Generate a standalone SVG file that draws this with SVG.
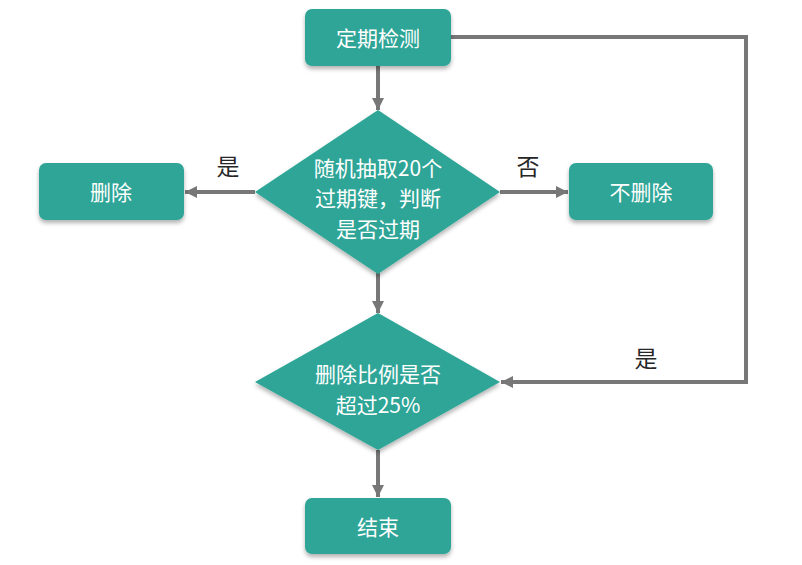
<svg xmlns="http://www.w3.org/2000/svg" width="802" height="565" viewBox="0 0 802 565">
<style>
.node{fill:#2da597;filter:url(#sh)}
.t{font-family:"Noto Sans CJK SC","Noto Sans",sans-serif;font-size:21px;fill:#ffffff;text-anchor:middle;dominant-baseline:central}
.lbl{font-family:"Noto Sans CJK SC","Noto Sans",sans-serif;font-size:23px;fill:#262626;text-anchor:middle;dominant-baseline:central}
.c{fill:none;stroke:#777777;stroke-width:4}
</style>
<defs>
<filter id="sh" x="-10%" y="-10%" width="120%" height="130%">
<feDropShadow dx="0" dy="3" stdDeviation="2" flood-color="#000" flood-opacity="0.3"/>
</filter>
<marker id="ah" viewBox="0 0 10 10" refX="10" refY="5" markerWidth="3" markerHeight="3" orient="auto" markerUnits="strokeWidth">
<path d="M0,0 L10,5 L0,10 z" fill="#777777"/>
</marker>
</defs>
<rect width="802" height="565" fill="#ffffff"/>
<g id="connectors">
<line class="c" x1="378" y1="66" x2="378" y2="110" marker-end="url(#ah)"/>
<line class="c" x1="378" y1="273" x2="378" y2="313" marker-end="url(#ah)"/>
<line class="c" x1="378" y1="450" x2="378" y2="497" marker-end="url(#ah)"/>
<line class="c" x1="255" y1="192" x2="185" y2="192" marker-end="url(#ah)"/>
<line class="c" x1="500" y1="192" x2="568" y2="192" marker-end="url(#ah)"/>
<polyline class="c" points="451,37 746,37 746,382 501,382" marker-end="url(#ah)"/>
<text class="lbl" x="228" y="165">是</text>
<text class="lbl" x="528" y="165">否</text>
<text class="lbl" x="646" y="357">是</text>
</g>
<g id="n-check">
<rect class="node" x="305" y="9" width="146" height="57" rx="7"/>
<text class="t" x="378" y="37">定期检测</text>
</g>
<g id="n-sample">
<polygon class="node" points="378,110 500,192 378,274 255,192"/>
<text class="t" x="378" y="166.5">随机抽取20个</text>
<text class="t" x="378" y="197">过期键，判断</text>
<text class="t" x="378" y="227.5">是否过期</text>
</g>
<g id="n-delete">
<rect class="node" x="39" y="163" width="145" height="57" rx="7"/>
<text class="t" x="111" y="191">删除</text>
</g>
<g id="n-keep">
<rect class="node" x="569" y="163" width="144" height="57" rx="7"/>
<text class="t" x="641" y="191">不删除</text>
</g>
<g id="n-ratio">
<polygon class="node" points="378,313 500,382 378,450 255,382"/>
<text class="t" x="378" y="373">删除比例是否</text>
<text class="t" x="378" y="403.5">超过25%</text>
</g>
<g id="n-end">
<rect class="node" x="305" y="498" width="146" height="56" rx="7"/>
<text class="t" x="378" y="526">结束</text>
</g>
</svg>
